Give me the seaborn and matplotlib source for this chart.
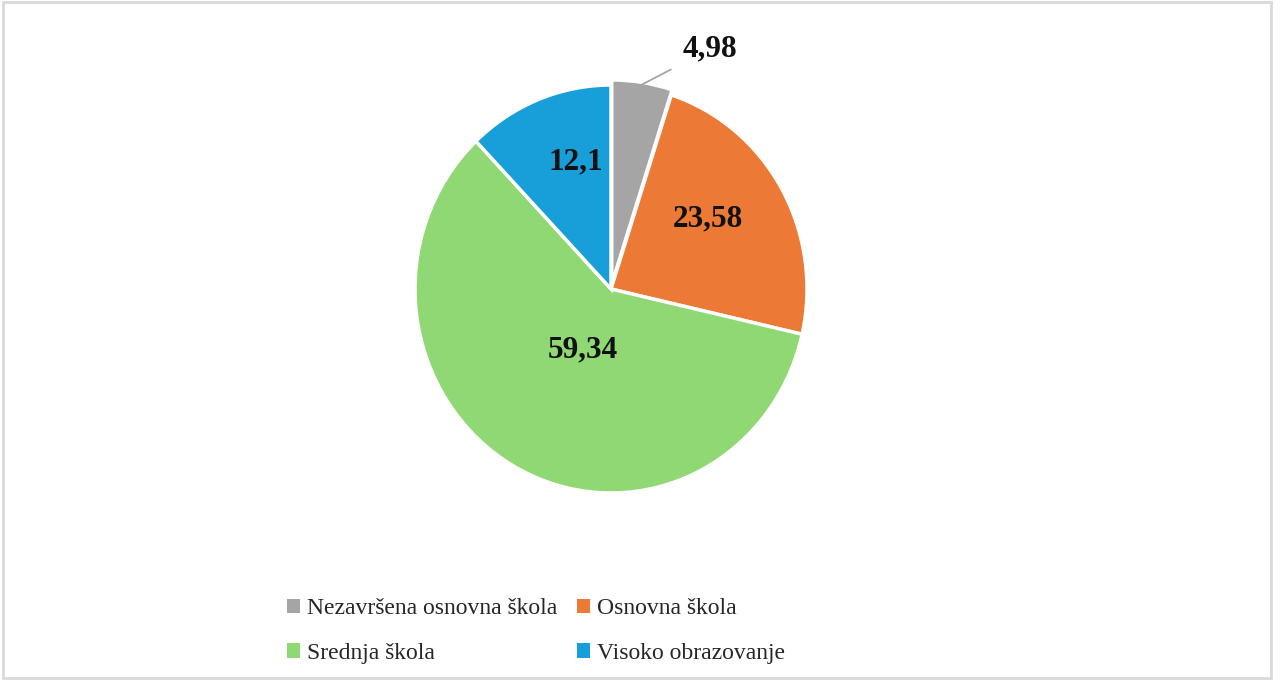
import numpy as np
import matplotlib
matplotlib.use("Agg")
import matplotlib.pyplot as plt
import seaborn as sns
from matplotlib.patches import Rectangle

categories = ["Nezavršena osnovna škola", "Osnovna škola", "Srednja škola", "Visoko obrazovanje"]
values = [4.98, 23.58, 59.34, 12.1]
value_labels = ["4,98", "23,58", "59,34", "12,1"]

colors = ["#A5A5A5", "#EC7A36", "#8FD873", "#189ED8"]
# label placement: (radial distance, angle offset from wedge middle in degrees)
label_place = [(1.255, -14.6), (0.60, 5.3), (0.33, 3.8), (0.65, -5.9)]
outside = [True, False, False, False]
explode = [0.025, 0, 0, 0]

sns.set_theme(style="white")
plt.rcParams['font.family'] = ['Liberation Serif', 'DejaVu Serif']

W, H = 1281, 683
fig = plt.figure(figsize=(W / 100, H / 100), dpi=100)
fig.patch.set_facecolor("white")

RX, RY = 196.0, 204.0
cx, cy = 611.0, H - 289.0
hx, hy = 1.5 * RX, 1.5 * RY
ax = fig.add_axes([(cx - hx) / W, (cy - hy) / H, 2 * hx / W, 2 * hy / H])

wedges, _ = ax.pie(values, colors=colors, startangle=90, counterclock=False,
                   explode=explode, radius=1.0,
                   wedgeprops=dict(edgecolor="white", linewidth=2.5))
ax.set_xlim(-1.5, 1.5)
ax.set_ylim(-1.5, 1.5)
ax.set_aspect("auto")
ax.axis("off")

for w, lab, (d, off), out in zip(wedges, value_labels, label_place, outside):
    mid = (w.theta1 + w.theta2) / 2
    ang = np.deg2rad(mid + off)
    c = w.center
    pos = (c[0] + d * np.cos(ang), c[1] + d * np.sin(ang))
    if not out:
        ax.text(*pos, lab, ha="center", va="center", fontsize=22.5,
                fontweight="bold", color="#111111")
    else:
        m = np.deg2rad(mid)
        edge = (c[0] + 0.99 * np.cos(m), c[1] + 0.99 * np.sin(m))
        ax.annotate(lab, xy=edge, xytext=pos, ha="center", va="center",
                    fontsize=22.5, fontweight="bold", color="#111111",
                    arrowprops=dict(arrowstyle="-", color="#A0A0A0", lw=1.2,
                                    shrinkA=7, shrinkB=0))

order = [0, 2, 1, 3]
leg = fig.legend([wedges[i] for i in order], [categories[i] for i in order],
                 ncol=2, loc="center", bbox_to_anchor=(536 / W, 1 - 631 / H),
                 frameon=False, fontsize=17, handlelength=0.55, handleheight=0.55,
                 handletextpad=0.3, columnspacing=0.8, labelspacing=1.0)
for h in leg.legend_handles:
    h.set_edgecolor("none")

fig.patches.append(Rectangle((3 / W, 5 / H), 1268 / W, 676 / H, transform=fig.transFigure,
                             fill=False, edgecolor="#D9D9D9", linewidth=2))

fig.savefig("out.png", dpi=100)
